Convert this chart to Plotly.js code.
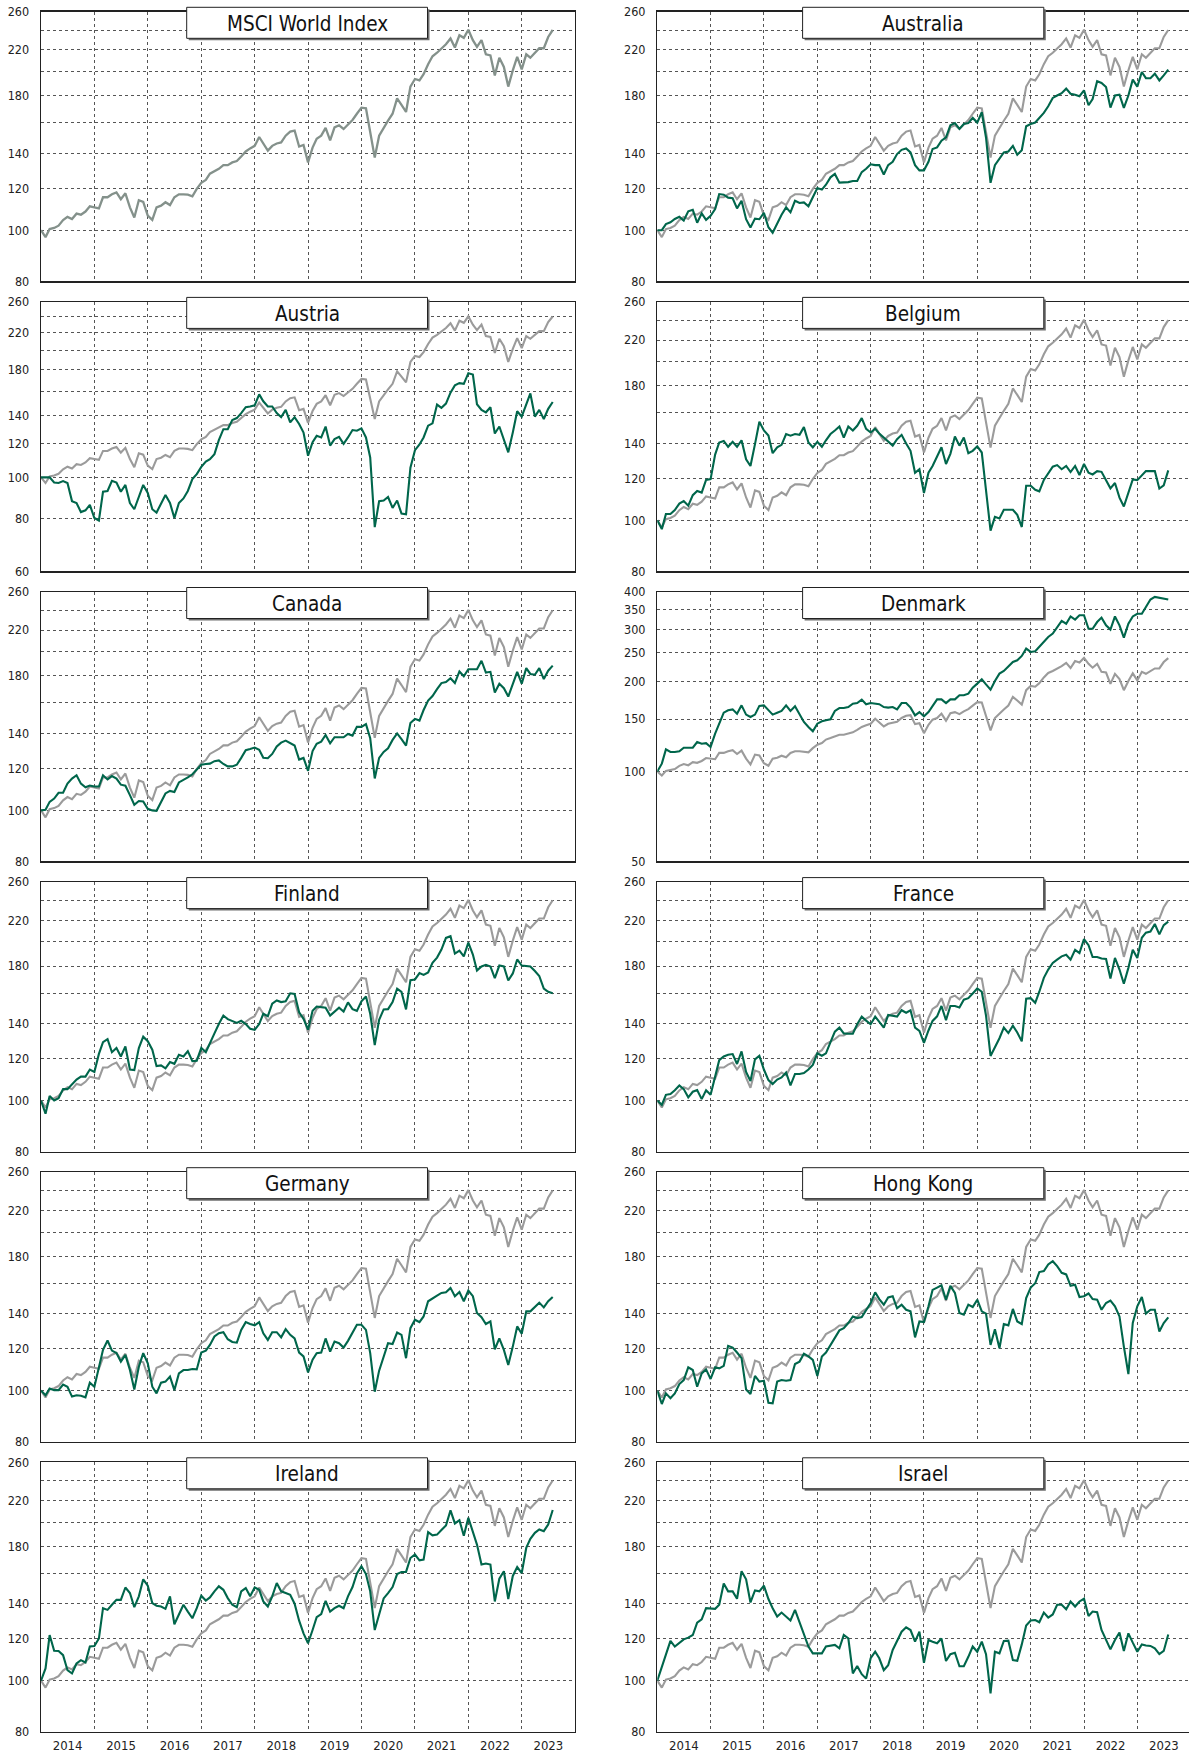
<!DOCTYPE html>
<html>
<head>
<meta charset="utf-8">
<script src="https://cdn.plot.ly/plotly-3.0.1.min.js"></script>
<style>
html,body{margin:0;padding:0;background:#fff;overflow:hidden;}
#chart{width:1195px;height:1756px;}
</style>
</head>
<body>
<div id="chart"></div>
<script>
// ---------------- DATA (monthly, index = 100 at end of Dec 2013) ----------------
const panelTitles = ["MSCI World Index","Australia","Austria","Belgium","Canada","Denmark",
                     "Finland","France","Germany","Hong Kong","Ireland","Israel"];
const yearLabels = ["2014","2015","2016","2017","2018","2019","2020","2021","2022","2023"];

const msciWorld = [100,97,100.5,101,102,104.5,106,105,107.5,107,
108.5,111,110.5,110,115.5,115.5,117,118,114.5,117.5,
110.5,105.7,114,113.2,106.6,104.6,110.5,111.3,113,111.6,
115.5,117,117,116.8,116,119.8,123,124.6,128,129.5,
130.8,132.9,132.9,134.5,135.3,138,141.1,143,144.6,150.3,
145.8,141.6,144.6,146.1,146.8,151.2,153.9,154.6,144.2,145.2,
134.5,143.5,149.2,151.2,156.4,148.1,156.8,158.2,155.7,159.1,
161.9,166.4,170.9,170.4,154.6,137.4,151.2,156.8,161.4,166.4,
178,173,167.7,187.4,193.7,192.5,197.8,206.7,214,217.3,
221.3,225.5,231.3,222.3,234.5,231.9,240.3,229.6,222.9,229.6,
215.8,214.7,196.8,212.6,204.2,187.4,201.2,213.4,202.1,215.8,
212.6,217.3,221.6,221.6,232.8,240];

const australia = [100,100,102.7,103.5,105,106,104.3,108.6,109.3,103.3,
107.6,104.6,106.5,109.7,117.1,116.8,115.3,115,110,113.7,
104.9,101.2,105.2,104.9,107.9,101.3,98.9,103.3,107,110.5,
108.1,113.7,112.6,112.9,111,115.5,120.2,119.4,122,126,
127.9,123.1,123.1,123.4,124,124,128.9,130.8,133.4,132.9,
133,127.6,132.9,134.9,139.5,142.1,143,140.5,132.9,129.9,
129.9,134.9,142.6,143.6,147.9,150.1,158.2,159.7,155.7,159.1,
159.7,163.4,160.1,167.5,150,123,132.9,136.8,140.5,141.1,
144.6,139.1,141.9,157.5,159.1,160.1,163,167,171.9,178.3,
180.2,182.1,185.7,181.6,180.8,179.7,184.3,172.7,177.5,191.8,
190.4,187,170.9,180.2,180.8,170.7,180.2,193.2,187.4,199.7,
194.4,194.4,198.2,192.5,196.8,201.9];

const austria = [100,100,100,97.3,97,98,97,87.9,87,82.8,
83.6,86.1,80.2,79.1,92.5,92.9,98.2,97.2,92.5,96,
87,84.1,89.9,96,91.9,84.1,82.6,87,90.9,87,
80.2,87,89.2,92.9,99.1,101.8,105.9,109,110.4,113.5,
122.5,130,130,136.7,138.1,141.9,146.5,147.1,148,157.1,
151.3,147.1,147.1,141.9,138.8,144.4,134.9,138.8,133.7,127.7,
112.5,121.1,125.4,124.3,131.9,118.9,123.2,124.7,120,124.3,
129.4,128.9,130.6,124.3,111.5,76.3,87.9,88.2,89.9,84.7,
88.2,82.1,81.8,105.4,116,119.6,124.3,132.5,134.2,148.6,
146,149.4,158.6,165,167,166.4,176.3,175,148.9,144.4,
142.5,146.5,127,131.9,122.2,114.6,127.7,143.3,139.2,149.4,
157.9,139.2,144.4,137.4,145.2,150.7];

const belgium = [100,96.2,102.8,102.8,104.6,107.6,108.8,106.6,111.6,113.7,
112.9,119.3,119.7,133.3,140.5,141.5,137.9,140.9,137.9,141.9,
130.6,126.8,139.5,153.9,148.1,144.9,134.1,137.6,139.1,145.8,
144.8,145.8,145.3,150.3,140.5,137.6,140.9,137.9,141.9,145.8,
148.1,150.7,143.6,150.7,148.1,151.2,156.3,149.2,146.8,149.2,
146.1,143.6,141.6,138.6,142.6,145.3,139.9,135.5,123.1,125,
112.7,123.1,126.8,132.1,137.6,127.9,133.7,144.2,138.6,143.6,
134.1,135.5,138.2,134.5,113,95.6,101.5,100.8,104.7,104.7,
104.7,102.4,97.1,116.3,116.3,114.3,113.5,119.3,123.1,126.4,
127.3,125,126.8,123.5,126.8,121.9,127.9,123.1,122.2,124,
123.6,119.3,115,117.7,110.4,106.2,112.3,119.6,119.2,121.6,
124,124,124,114.9,116.5,124.4];

const canada = [100,100.3,103.8,105.3,108,108,112.4,114.9,116.6,112.4,
110.6,111.5,111,111,116.6,114.5,116.2,114.9,111.9,111.4,
106.9,102.5,104.2,104,100.7,100,99.8,103.8,107.7,108.9,
108.4,113,114.1,115.5,117.1,119.6,122.1,122.5,122.7,124,
124.4,122.5,121.2,121.2,122.1,125.8,130.1,130.8,131.6,130.4,
125.9,125.6,128,132.2,134.5,135.7,134.1,132.8,124.9,125.8,
118.9,129.6,133.8,135.1,139.1,134.1,137.7,137.7,137.7,139.7,
138.7,144.1,144.1,145.8,137.1,115,125.8,129.1,131.2,136.1,
140,136.5,132.8,146.5,149.2,148.1,155.1,161.6,164.9,169.9,
174.5,175.3,178.2,174.5,183.6,179.8,185.4,185.4,185.4,192.4,
182.7,183.3,167.4,174,170.6,164.5,173.2,183.3,174,186.3,
181.6,181,186.3,177.6,184.2,188.3];

const denmark = [100,106.3,118.7,116.3,116.3,116.9,120.2,120.2,120.2,125.6,
124,124.5,120.9,134,144.7,157.5,160.4,161.6,156.3,166.7,
155.2,152.4,155.2,166,166.7,160.4,155.2,157.5,159.6,166.7,
159.6,165.4,155.5,146.6,141,136.4,144.7,147.4,148.5,149.6,
159.6,163.3,163.3,164.5,168.9,169.7,174.2,168.1,169.7,168.9,
168.2,164.5,163.8,164.5,161.6,169.7,169.7,163.8,154.3,158.3,
153.1,158.3,166.7,174.6,174.6,169.7,174.6,174.6,180.1,180.1,
182.4,191.1,197.1,203.8,195.9,188.2,201.2,212.9,217.3,224.2,
233,236,244,258.2,251.7,253,261.6,273,282.6,290,
305,320,313,331,323,334,334,301,301,317,
328,309,299,331,309,281,313,331,338,338,
356,377,385,383,381,377];

const finland = [100,94.4,102,100,101,105.1,105.1,107.5,109.6,111,
111,114.5,113.3,122.6,129.1,130.8,123.5,125.8,121.2,126.6,
114.5,114.2,125.8,132.2,129.6,124.9,116.2,116.6,115.1,118.3,
117.4,122.1,121.2,124.1,118.8,119,125.9,123.5,128.8,134.1,
139.7,145,142.7,141.3,140.4,141.7,139.7,136.8,136.2,139.7,
146.1,144.6,152.7,154.9,153.8,154.3,159.8,159.3,147.1,142.9,
136.3,148,150.8,150.4,150.1,145,147.6,150.1,147.6,153.6,
149.1,148,154.3,157.6,146.1,127.4,142.3,148.9,149.1,153.8,
163.1,160.8,148.9,169.3,169.8,174.6,173.2,175.1,182.6,186.8,
193.5,203.6,205.1,190.1,192.6,187.8,199.4,189.3,176.5,179.7,
181,179.7,170.8,180.4,179.7,169,174.3,185.3,180.4,180.1,
179.7,176.1,172.4,163.1,160.8,159.8];

const france = [100,98.1,102.5,102.9,104.6,106.8,105.1,101.4,103.9,104.7,
100.6,104.6,102.5,111.1,119.3,121.2,122.1,122.5,117.3,123.9,
113.3,108.9,119.7,121.6,114.5,109.3,107.5,109.6,110.6,113,
106.8,112.3,112.3,112.7,114.5,116.8,122.9,121.6,122.9,129.1,
135.1,137.5,134.1,133.9,133.9,139.6,144.3,141.8,139.6,144.3,
140.8,137.5,145.3,144.8,144.3,148.4,146.8,148.4,137.5,135.6,
128.6,135.8,141.6,144.5,151.2,142.1,151.2,151.2,150.2,155.4,
156.4,159.7,163.2,160.9,145,121.5,126.1,131.3,137.6,134.3,
138.7,134.6,129.5,156,156.4,153.3,160.9,171,177.3,182.5,
185.1,187.8,189.1,185.1,193.3,190.6,202.5,197.2,187.3,187.3,
186,185.7,170.4,186.5,177.3,166.6,178.6,193.3,186.5,203.7,
208.3,209.3,216.4,206.8,215.3,218.6];

const germany = [100,98,100.9,100.2,100.2,102.7,101.7,97.4,98,97.8,
97.1,103.5,101.7,111,119.5,124.5,119.1,117.8,113.5,116.9,
109.4,100.5,111,117.8,112.7,101.7,98.8,103.5,104,106.3,
100.2,107.8,109.4,109.4,109.9,109.7,118.1,119.1,122.1,126.7,
128.5,129.1,125.2,123.7,123.3,130.4,134.9,133.8,133,134.9,
128.5,124.8,129.1,129.1,126.2,130.8,127.6,125.6,118.1,116.1,
108.3,114.5,117.8,118.1,125.6,118.6,123.9,123,120.7,124.3,
128.9,133.4,133.4,130.4,117.8,99.5,109.1,116.1,123,122.6,
128.9,127.6,115.2,131.4,136.3,134.9,138.3,147.8,149.9,151.5,
153.3,153.7,156.7,151.1,153.9,147.8,154.9,151.1,140.4,137.9,
133.8,135.3,119.8,125.6,119.5,111.8,121.2,132.4,128.2,141.4,
141.4,143.9,146.9,143.9,147.8,150.6];

const hongKong = [100,94.3,98.8,96.7,98.8,102.9,104.7,110.7,109.4,101.7,
107.8,109.7,105.2,110.7,110.2,111.4,121.6,120.7,118.1,115.2,
100.5,98.5,106.6,104,104.4,94.8,94.6,104,104.7,104.4,
104.7,112.3,113.5,117.5,116.1,114.4,106.6,116.1,118.1,122.1,
125.8,130.1,131.4,134.4,138.3,137.3,137.9,142.4,146.7,153.7,
149.2,145.6,150.3,151.1,143.3,145.6,142.4,141.4,126.2,135.3,
134.9,144.6,155.3,156.9,158.5,148.8,158.1,153.3,140.4,139.4,
145.6,144.1,148.8,141.4,140,122.1,130.8,120.3,133.8,133,
142.9,135.3,133.8,149.9,156.9,159.9,167.9,168.6,173.6,176.1,
172.3,167.4,166.2,158.1,158.8,150.6,151.1,152.9,149.2,148.8,
142.4,146.7,148.2,144.6,138.3,121.2,107.5,134.4,144.6,150.6,
140,142.4,142.4,129.5,134.4,137.7];

const ireland = [100,105.5,122.1,114,113.9,111.8,104.7,103.2,107.8,109.4,
108.3,116.1,116.4,120.3,137.3,136.3,139.4,142.4,142.4,150.3,
146.7,137.9,144.6,155.8,151.5,140.4,138.8,138.3,136.9,144.6,
128,133.4,139.4,135.3,131.4,137.3,145,142,143.9,147.8,
151.1,148.8,143.5,139.4,137.9,147.8,149.9,144.6,150.3,148.8,
141.4,138.3,144.6,153.3,147.8,146.7,145.6,140,130,123,
117.8,124.8,132,133.8,141.8,135.3,137.3,138.8,137.3,144.6,
150.6,159.9,164.9,159.4,147.8,124.8,134.4,143.3,146.7,150.6,
159.4,160.9,160.9,171,173.6,169.3,169.8,191.5,188.8,189.4,
193.2,197.1,210.6,198.9,201.8,188.5,203.9,191.5,181.3,166.2,
166.9,166.2,141.4,156.2,161.4,142.9,158.1,164.4,160.1,178.7,
185.9,190.9,193.7,192.3,198,210.9];

const israel = [100,106.5,112.3,119,116.1,117.8,119.8,120.7,122.1,128.9,
130.8,137.3,137.3,136.9,139.4,153,147.8,147.8,143.1,161.4,
155.8,140.8,148.4,147.8,151.5,142.9,137.3,132.4,134.7,132.4,
130.1,136.3,129.5,123,116.1,112.7,112.7,112.7,116.1,116.4,
116.9,115.2,122.1,120.3,103.2,106.6,102.9,100.9,110.3,113.5,
110.3,104.7,107,114.4,118.6,123.9,126.3,124.8,118.6,123.9,
108.1,119.5,118.6,117.8,120.3,109,112.3,113,106.5,106.5,
111,116.1,113.5,118.6,112.3,94.6,113.5,112.7,119,119.1,
109.4,109.1,117.2,127.3,130.1,130.4,129.1,134.7,131.8,133.6,
139.4,139.4,136.7,141.4,138.3,141.4,143.1,132.7,135.3,134.9,
124.8,119.1,114.7,119.5,123.5,113.9,123,118.1,113.5,117.2,
116.6,116.4,115.2,112.3,113.9,122.4];

const countrySeries = [null, australia, austria, belgium, canada, denmark,
                       finland, france, germany, hongKong, ireland, israel];

// y-axis tick sets (gridlines; some labels suppressed as in the original)
const ticksStd   = [80,100,120,140,160,180,200,220,240,260];
const labelsStd  = ["80","100","120","140","","180","","220","","260"];
const ticksAut   = [60,80,100,120,140,160,180,200,220,240,260];
const labelsAut  = ["60","80","100","120","140","","180","","220","","260"];
const ticksDen   = [50,100,150,200,250,300,350,400];
const labelsDen  = ["50","100","150","200","250","300","350","400"];

// ---------------- LAYOUT ----------------
const W = 1195, H = 1756;
const px = x => x / W;
const py = y => 1 - y / H;
const colX = [[41.0, 575.1], [657.3, 1190.6]];
const rowTop = [11.7, 301.8, 591.9, 882.0, 1172.1, 1462.2];
const plotH = 269.5;
const boxX = [[186.7, 427.5], [802.6, 1043.8]];

const FONT = "'DejaVu Sans Condensed','Liberation Sans Narrow','Arial Narrow',sans-serif";
const GREEN = "#00664b", GREY = "#9b9b9b", MSCI_COL = "#84918b";
const GRIDC = "#555555";

// monthly dates (Dec-2013 end placed at the start of 2014)
const dates = [];
for (let i = 0; i < msciWorld.length; i++) {
  const d = new Date(Date.UTC(2014, i, 1));
  dates.push(d.toISOString().slice(0, 10));
}
const labelPos = yearLabels.map(y => y + "-07-02");

const layout = {
  width: W, height: H, autosize: false,
  margin: {l: 0, r: 0, t: 0, b: 0, pad: 0},
  paper_bgcolor: "#fff", plot_bgcolor: "#fff",
  showlegend: false,
  font: {family: FONT, color: "#222"},
  shapes: [], annotations: []
};
const traces = [];

for (let i = 0; i < 12; i++) {
  const col = i % 2, row = Math.floor(i / 2);
  const n = i + 1;
  const xa = "xaxis" + (n === 1 ? "" : n), ya = "yaxis" + (n === 1 ? "" : n);
  const xr = "x" + (n === 1 ? "" : n), yr = "y" + (n === 1 ? "" : n);
  const top = rowTop[row], bot = top + plotH;

  let tv = ticksStd, tt = labelsStd, lo = 80, hi = 260;
  if (i === 2) { tv = ticksAut; tt = labelsAut; lo = 60; hi = 260; }
  if (i === 5) { tv = ticksDen; tt = labelsDen; lo = 50; hi = 400; }

  layout[xa] = {
    domain: [px(colX[col][0]), px(colX[col][1])],
    anchor: yr, type: "date",
    range: ["2014-01-01", "2024-01-01"],
    tickmode: "array", tickvals: labelPos, ticktext: yearLabels,
    showticklabels: row === 5, ticks: "", ticklabelstandoff: 1,
    tickfont: {family: FONT, size: 13, color: "#222"},
    showgrid: false, zeroline: false,
    minor: {dtick: "M12", tick0: "2014-01-01", showgrid: true,
            gridcolor: GRIDC, griddash: "dot", gridwidth: 1, ticks: ""},
    showline: true, mirror: true, linecolor: "#222", linewidth: 1.3,
    fixedrange: true
  };
  layout[ya] = {
    domain: [py(bot), py(top)], anchor: xr, type: "log",
    range: [Math.log10(lo), Math.log10(hi)],
    tickmode: "array", tickvals: tv, ticktext: tt,
    ticks: "", ticklabelstandoff: 8,
    tickfont: {family: FONT, size: 12.5, color: "#222"},
    showgrid: true, gridcolor: GRIDC, griddash: "dot", gridwidth: 1,
    zeroline: false, showline: true, mirror: true, linecolor: "#222", linewidth: 1.3,
    fixedrange: true
  };

  if (i === 0) {
    traces.push({x: dates, y: msciWorld, xaxis: xr, yaxis: yr, type: "scatter", mode: "lines",
                 line: {color: MSCI_COL, width: 2.3}, hoverinfo: "skip"});
  } else {
    traces.push({x: dates, y: msciWorld, xaxis: xr, yaxis: yr, type: "scatter", mode: "lines",
                 line: {color: GREY, width: 2.1}, hoverinfo: "skip"});
    traces.push({x: dates, y: countrySeries[i], xaxis: xr, yaxis: yr, type: "scatter", mode: "lines",
                 line: {color: GREEN, width: 2.1}, hoverinfo: "skip"});
  }

  // title box with small drop shadow
  const bx0 = boxX[col][0], bx1 = boxX[col][1];
  const by0 = top - 4.4, by1 = top + 26.6;
  layout.shapes.push({type: "rect", xref: "paper", yref: "paper",
    x0: px(bx0 + 2), x1: px(bx1 + 2), y0: py(by0 + 2), y1: py(by1 + 2),
    fillcolor: "#6e6e6e", line: {width: 0}});
  layout.shapes.push({type: "rect", xref: "paper", yref: "paper",
    x0: px(bx0), x1: px(bx1), y0: py(by0), y1: py(by1),
    fillcolor: "#ffffff", line: {color: "#222", width: 1}});
  layout.annotations.push({xref: "paper", yref: "paper",
    x: px((bx0 + bx1) / 2), y: py((by0 + by1) / 2 + 1),
    xanchor: "center", yanchor: "middle", showarrow: false,
    text: panelTitles[i], font: {family: FONT, size: 20.5, color: "#111"}});
}

Plotly.newPlot("chart", traces, layout, {staticPlot: true, displayModeBar: false});
</script>
</body>
</html>
